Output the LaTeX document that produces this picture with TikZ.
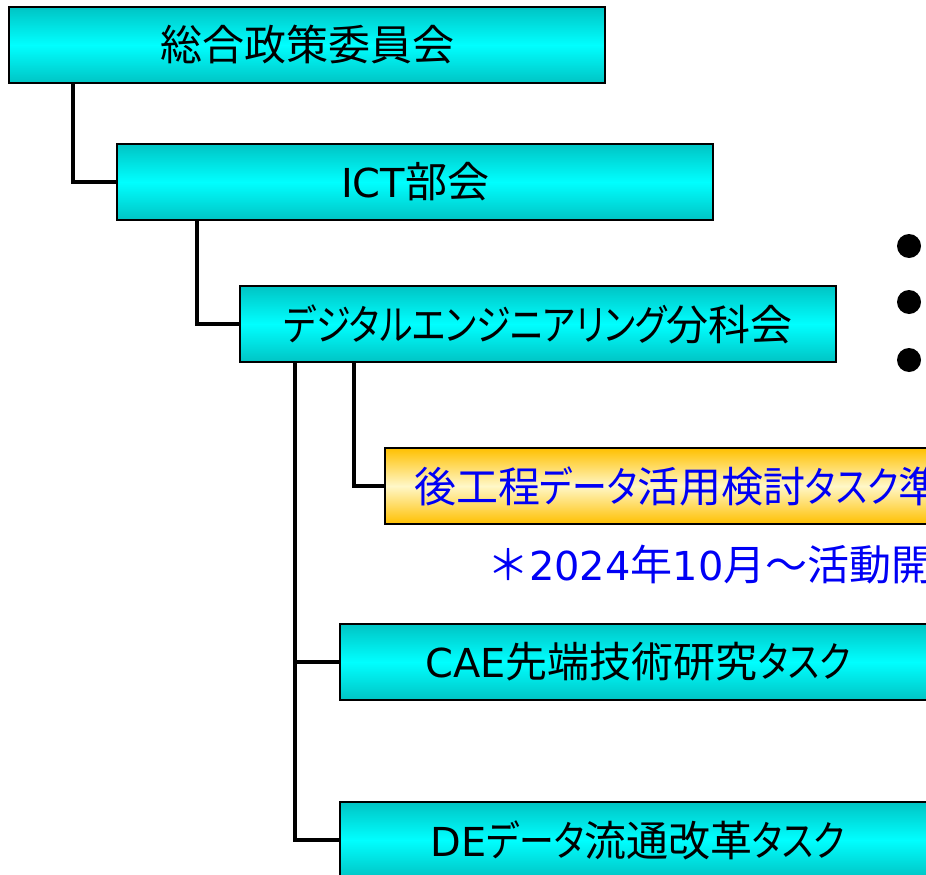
\documentclass[tikz,border=0pt]{standalone}
\usepackage{fontspec}
\setmainfont{Noto Sans CJK JP}
\newfontfamily\lat{DejaVu Sans}[Scale=0.95]
\newfontfamily\kana{Noto Sans CJK JP}[RawFeature=+palt, FakeStretch=0.83]
\definecolor{cyanD}{RGB}{0,196,196}
\definecolor{cyanL}{RGB}{0,255,255}
\definecolor{orgD}{RGB}{255,192,0}
\definecolor{orgL}{RGB}{255,247,200}
\definecolor{txtblue}{RGB}{0,0,245}
\begin{document}
\begin{tikzpicture}[x=1pt,y=-1pt,
  box/.style={draw=black, line width=2pt, minimum width=596pt, minimum height=76pt,
    anchor=north west, inner sep=0pt, font=\fontsize{42}{48}\selectfont,
    top color=cyanD, bottom color=cyanD, middle color=cyanL},
  obox/.style={box, top color=orgD, bottom color=orgD, middle color=orgL, text=txtblue},
  conn/.style={line width=3.5pt, black},
  dot/.style={circle, fill=black, minimum size=24pt, inner sep=0pt}]
\useasboundingbox (0,0) rectangle (926,875);
\clip (0,0) rectangle (926,875);
\node[box] (b1) at (8,6) {総合政策委員会};
\node[box] (b2) at (116,143) {{\lat ICT}部会};
\node[box] (b3) at (239,285) {{\kana デジタルエンジニアリング}分科会};
\node[obox, text width=538pt, align=left] (b4) at (384,447) {後工程{\kana データ}活用検討{\kana タスク}準};
\node[anchor=west, text=txtblue, font=\fontsize{42}{48}\selectfont, inner sep=0pt] (note) at (487,565) {＊{\lat 2024}年{\lat 10}月～活動開};
\node[box] (b5) at (339,623) {{\lat CAE}先端技術研究{\kana タスク}};
\node[box] (b6) at (339,801) {{\lat DE}{\kana データ}流通改革{\kana タスク}};
\draw[conn] (b1.south west) ++(65,0) |- (b2.west);
\draw[conn] (b2.south west) ++(81,0) |- (b3.west);
\draw[conn] (b3.south west) ++(115,0) |- (b4.west);
\draw[conn] (b3.south west) ++(56,0) |- (b6.west);
\draw[conn] (b3.south west) ++(56,0) |- (b5.west);
\node[dot] (d1) at (909,246) {};
\node[dot] (d2) at (909,302) {};
\node[dot] (d3) at (909,360) {};
\end{tikzpicture}
\end{document}
